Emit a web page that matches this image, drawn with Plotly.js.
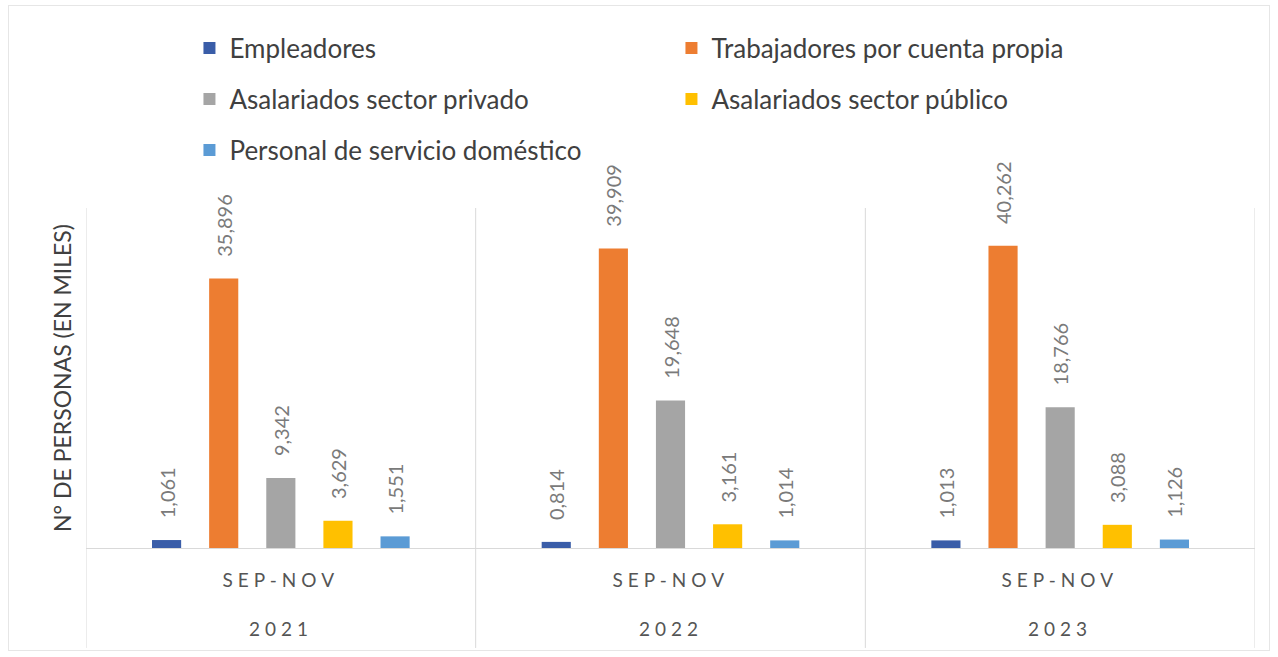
<!DOCTYPE html>
<html>
<head>
<meta charset="utf-8">
<script src="https://cdn.plot.ly/plotly-3.0.1.min.js"></script>
<style>
  html, body { margin: 0; padding: 0; background: #fff; }
  #wrap { position: relative; width: 1278px; height: 657px; }
  #chart { width: 1278px; height: 657px; }
  #frame { position: absolute; left: 8px; top: 5px; width: 1262px; height: 646px;
           border: 1px solid #e6e6e6; pointer-events: none; box-sizing: border-box; }
  text.spaced { letter-spacing: 5px; }
</style>
</head>
<body>
<div id="wrap">
  <div id="chart"></div>
  <div id="frame"></div>
</div>
<script>
// ---- data ----
const years = ["2021", "2022", "2023"];
const period = "SEP-NOV";
const seriesNames = [
  "Empleadores",
  "Trabajadores por cuenta propia",
  "Asalariados sector privado",
  "Asalariados sector público",
  "Personal de servicio doméstico"
];
const empleadores   = [1.061, 0.814, 1.013];
const cuentaPropia  = [35.896, 39.909, 40.262];
const sectorPrivado = [9.342, 19.648, 18.766];
const sectorPublico = [3.629, 3.161, 3.088];
const domestico     = [1.551, 1.014, 1.126];
const yTitle = "N° DE PERSONAS (EN MILES)";

// ---- style ----
const colors = ["#3a5da8", "#ed7d31", "#a5a5a5", "#ffc000", "#5b9bd5"];
const legendOf = ["legend", "legend", "legend2", "legend2", "legend3"];
const FONT = "Lato, 'Open Sans', sans-serif";
const LABEL_PAD = 2.5; // gap (in axis units) between bar end and its value label

const allSeries = [empleadores, cuentaPropia, sectorPrivado, sectorPublico, domestico];
const fmt = v => v.toFixed(3).replace(".", ",");

const traces = [];
allSeries.forEach((vals, i) => {
  traces.push({
    type: "bar", name: seriesNames[i], x: years, y: vals,
    offsetgroup: "g" + i, legend: legendOf[i],
    marker: { color: colors[i] }, hoverinfo: "skip"
  });
});
allSeries.forEach((vals, i) => {
  traces.push({
    type: "bar", x: years, y: vals.map(() => LABEL_PAD), base: vals,
    offsetgroup: "g" + i, showlegend: false,
    marker: { color: "rgba(0,0,0,0)" },
    text: vals.map(fmt), textposition: "outside", textangle: -90,
    constraintext: "none", cliponaxis: false,
    textfont: { family: FONT, size: 20, color: "#7a7a7a" },
    hoverinfo: "skip"
  });
});

// category axis positions are given by index (numeric-looking category names
// would otherwise be read as numbers)
const annotations = [];
years.forEach((yr, idx) => {
  annotations.push({ xref: "x", yref: "paper", x: idx, y: -0.092, text: period,
    showarrow: false, yanchor: "middle", font: { family: FONT, size: 19, color: "#555555" } });
  annotations.push({ xref: "x", yref: "paper", x: idx, y: -0.238, text: yr,
    showarrow: false, yanchor: "middle", font: { family: FONT, size: 19, color: "#555555" } });
});

const shapes = [];
for (let k = 0; k <= years.length; k++) {
  shapes.push({ type: "line", xref: "x", yref: "paper", x0: k - 0.5, x1: k - 0.5,
    y0: -0.294, y1: 1, line: { color: "#d9d9d9", width: 1 } });
}

const legendBase = {
  orientation: "h", xanchor: "left", yanchor: "middle", x: 0.0885,
  entrywidth: 437, entrywidthmode: "pixels",
  font: { family: FONT, size: 26, color: "#404040" },
  bgcolor: "rgba(0,0,0,0)", traceorder: "normal"
};

const layout = {
  width: 1278, height: 657,
  margin: { l: 86, r: 23, t: 208, b: 109 },
  paper_bgcolor: "#ffffff", plot_bgcolor: "#ffffff",
  barmode: "group", bargap: 0.267, bargroupgap: 0.49,
  font: { family: FONT },
  xaxis: { type: "category", range: [-0.5, 2.5], showticklabels: false,
    showline: true, linecolor: "#d9d9d9", linewidth: 1, showgrid: false,
    zeroline: false, fixedrange: true },
  yaxis: { range: [0, 45.3], showticklabels: false, showgrid: false,
    zeroline: false, showline: false, fixedrange: true, automargin: false,
    title: { text: yTitle, standoff: 6, font: { family: FONT, size: 23, color: "#404040" } } },
  legend: Object.assign({}, legendBase, { y: 1.4706 }),
  legend2: Object.assign({}, legendBase, { y: 1.3206 }),
  legend3: Object.assign({}, legendBase, { y: 1.1706 }),
  annotations: annotations,
  shapes: shapes
};

Plotly.newPlot("chart", traces, layout, { displayModeBar: false, staticPlot: true }).then(() => {
  document.querySelectorAll(".annotation-text").forEach(t => t.classList.add("spaced"));
});
</script>
</body>
</html>
